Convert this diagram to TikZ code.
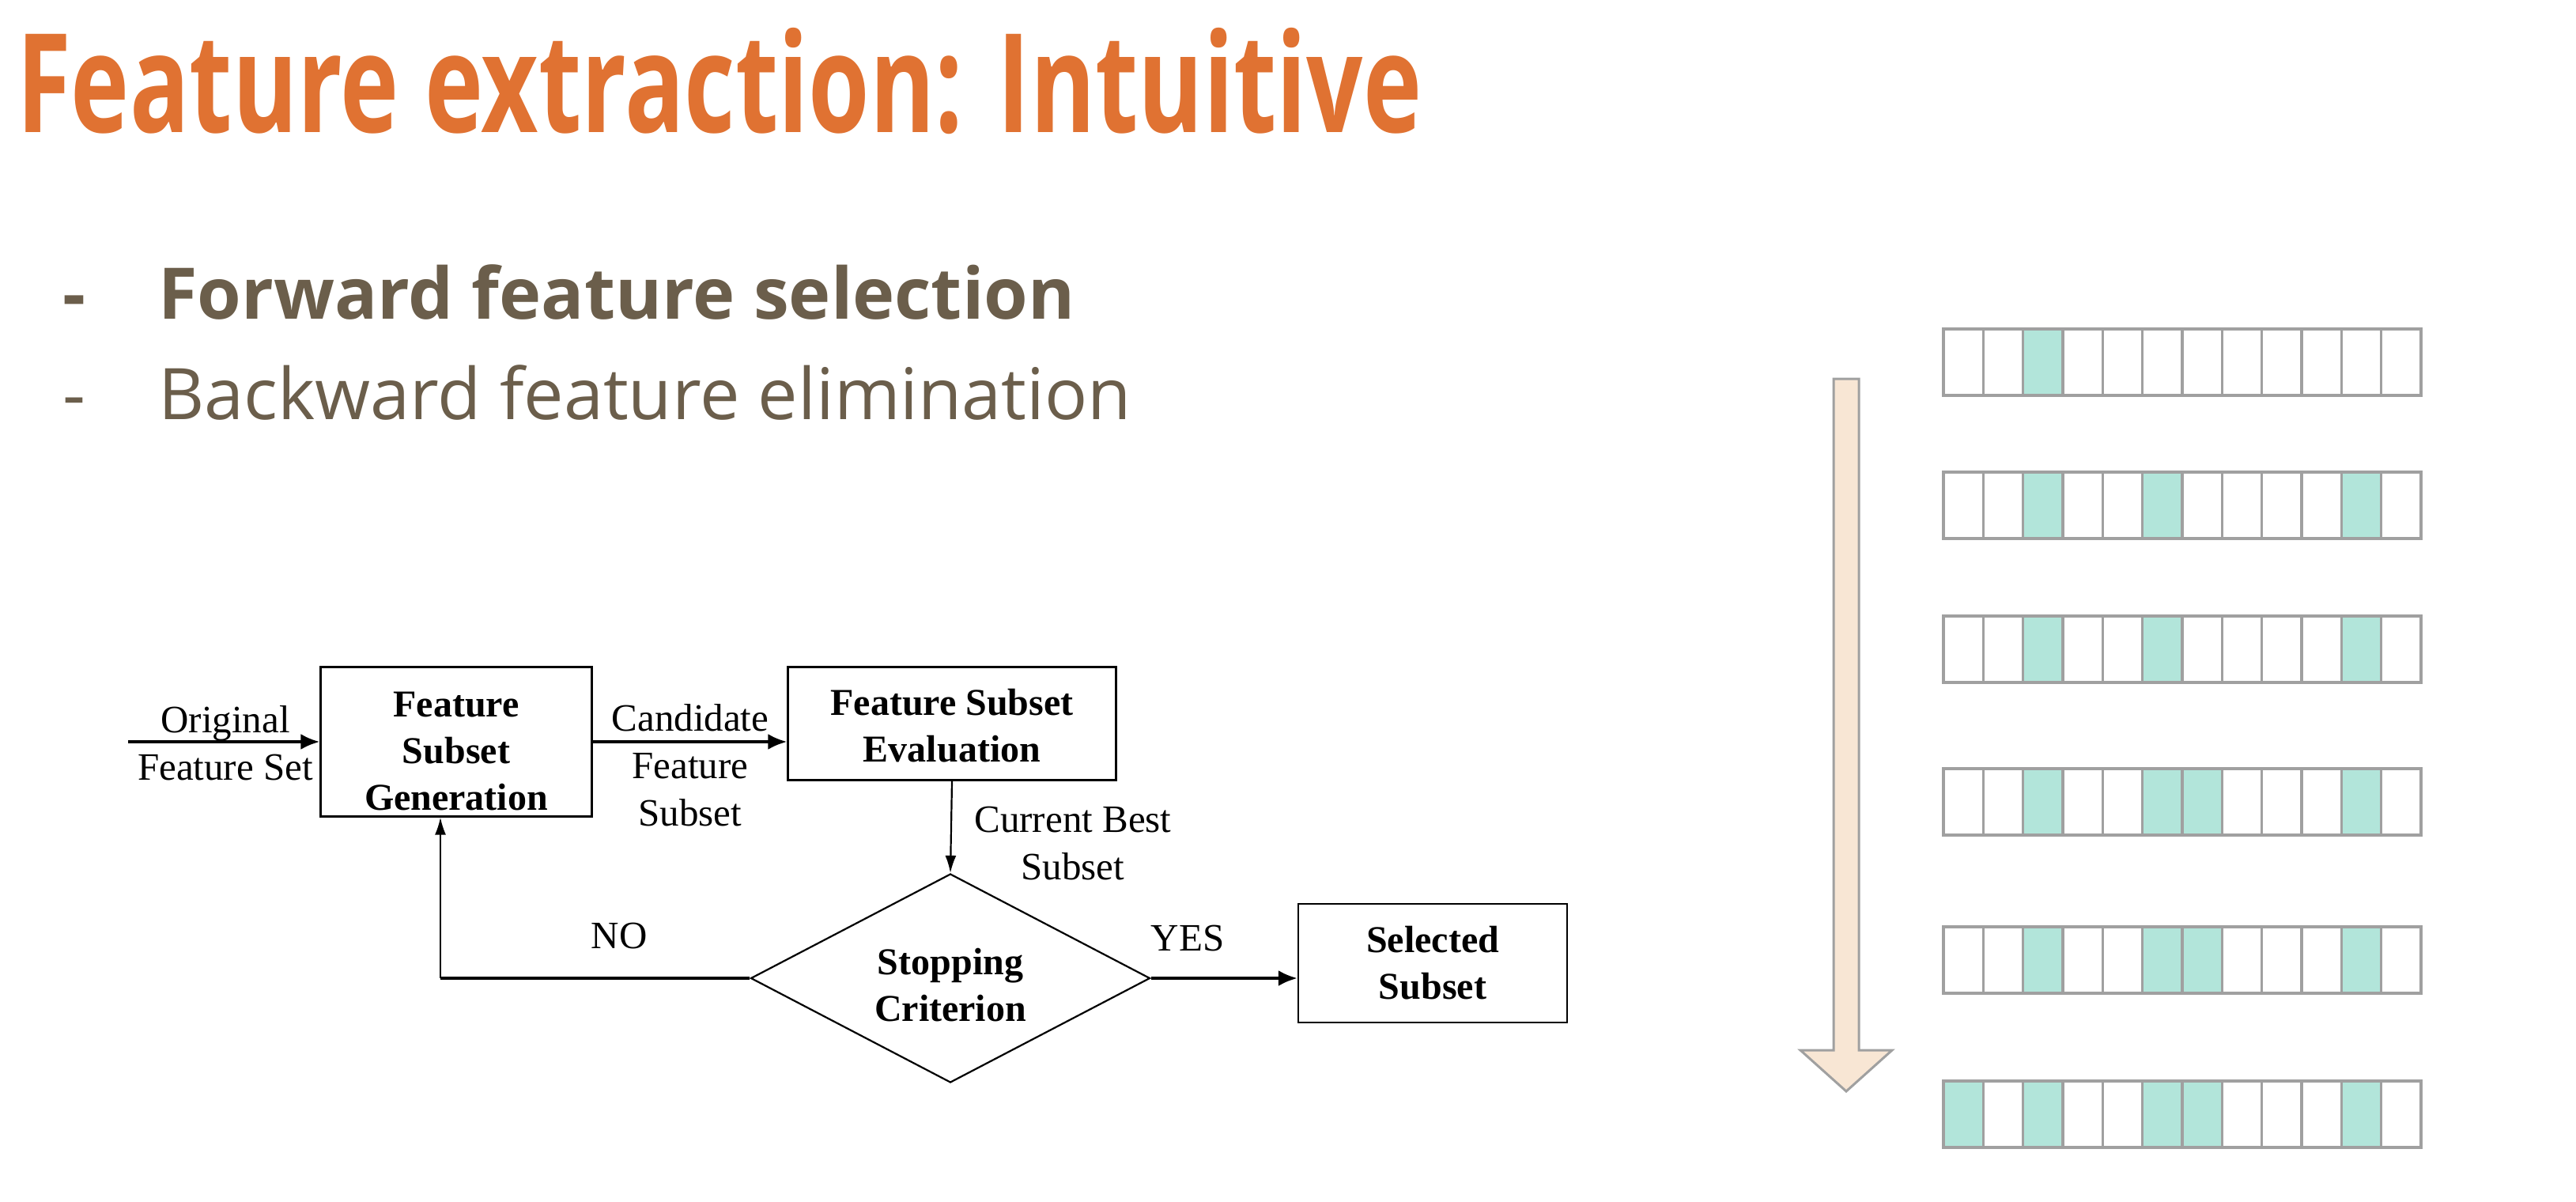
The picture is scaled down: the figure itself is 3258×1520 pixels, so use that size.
\documentclass[tikz,border=0pt]{standalone}
\usepackage{fontspec}
\setmainfont{Liberation Serif}
\newfontfamily\headfont{Open Sans}[FakeStretch=0.72]
\newfontfamily\bodyfont{Open Sans}
\usetikzlibrary{shapes.geometric,arrows.meta}
\definecolor{titleorange}{HTML}{E07232}
\definecolor{bulletbrown}{HTML}{6B5E4B}
\definecolor{cellgray}{HTML}{A0A0A0}
\definecolor{cellteal}{HTML}{B2E5DA}
\definecolor{arrowpeach}{HTML}{F8E6D4}
\begin{document}
\begin{tikzpicture}[x=1pt,y=-1pt,
  flowbox/.style={draw=black,line width=2.2pt,minimum width=#1,inner sep=0pt,align=center,
    font=\fontsize{48}{59}\selectfont\bfseries},
  flowlabel/.style={align=center,inner sep=0pt,font=\fontsize{49}{60}\selectfont},
  heavy/.style={line width=4pt,-{Latex[length=24pt,width=20pt]}},
  light/.style={line width=2.2pt,-{Latex[length=22pt,width=14pt]}},
  cell/.style={draw=cellgray,line width=3.5pt},
  bulletline/.style={anchor=base west,inner sep=0pt,text=bulletbrown}]
\useasboundingbox[fill=white] (0,0) rectangle (3258,1520);

% heading and bullet list
\node[anchor=base west,inner sep=0pt,text=titleorange,
  font=\fontsize{174}{180}\selectfont\headfont\bfseries] (title) at (21,167) {Feature extraction: Intuitive};
\node[bulletline,font=\fontsize{90}{100}\selectfont\bodyfont\bfseries] (dash1) at (79,403) {-};
\node[bulletline,font=\fontsize{90}{100}\selectfont\bodyfont\bfseries] (item1) at (200,403) {Forward feature selection};
\node[bulletline,font=\fontsize{90}{100}\selectfont\bodyfont] (dash2) at (79,530) {-};
\node[bulletline,font=\fontsize{90}{100}\selectfont\bodyfont] (item2) at (200,530) {Backward feature elimination};

% flowchart
\node[flowbox=343pt,minimum height=189pt] (gen) at (577,938) {\rule{0pt}{56pt}Feature\\Subset\\Generation};
\node[flowbox=415pt,minimum height=143pt] (eval) at (1204,915) {\rule{0pt}{38pt}Feature Subset\\Evaluation};
\node[draw=black,line width=2.2pt,shape=diamond,aspect=1.91,minimum width=505pt,minimum height=264pt,
  inner sep=0pt,align=center,font=\fontsize{48}{59}\selectfont\bfseries] (stop) at (1202,1237) {\rule{0pt}{50pt}Stopping\\Criterion};
\node[flowbox=340pt,minimum height=150pt] (sel) at (1812,1218) {Selected\\Subset};

\coordinate (src) at (162,938);
\draw[heavy] (src) -- (gen.west);
\draw[heavy] (gen.east) -- (gen.east -| eval.west);
\draw[light] (eval.south) -- (stop.north);
\draw[heavy] (stop.east) -- (stop.east -| sel.west);
\draw[line width=4pt] (stop.west) -- ([xshift=-20pt]gen.south |- stop.west);
\draw[light] ([xshift=-20pt]gen.south |- stop.west) -- ([xshift=-20pt]gen.south);

\node[flowlabel] (orig) at (285,940) {Original\\Feature Set};
\node[flowlabel] (cand) at (873,968) {Candidate\\Feature\\Subset};
\node[flowlabel] (best) at (1357,1067) {Current Best\\Subset};
\node[flowlabel] (no) at (783,1184) {NO};
\node[flowlabel] (yes) at (1502,1187) {YES};

% downward progress arrow
\draw[fill=arrowpeach,draw=cellgray,line width=3pt,line join=miter]
  (2319,479) -- (2351,479) -- (2351,1328) -- (2393,1328) -- (2335,1380)
  -- (2277,1328) -- (2319,1328) -- cycle;

% selected-feature masks
\foreach \r/\top/\sel in {1/416/{2},2/597/{2,5,10},3/779/{2,5,10},
    4/972/{2,5,6,10},5/1172/{2,5,6,10},6/1367/{0,2,5,6,10}}{
  \foreach \c in {0,...,11}{
    \draw[cell] ({2458+50.33*\c},\top) rectangle ({2458+50.33*(\c+1)},\top+84);
  }
  \foreach \c in \sel{
    \draw[cell,fill=cellteal] ({2458+50.33*\c},\top) rectangle ({2458+50.33*(\c+1)},\top+84);
  }
}
\end{tikzpicture}
\end{document}
